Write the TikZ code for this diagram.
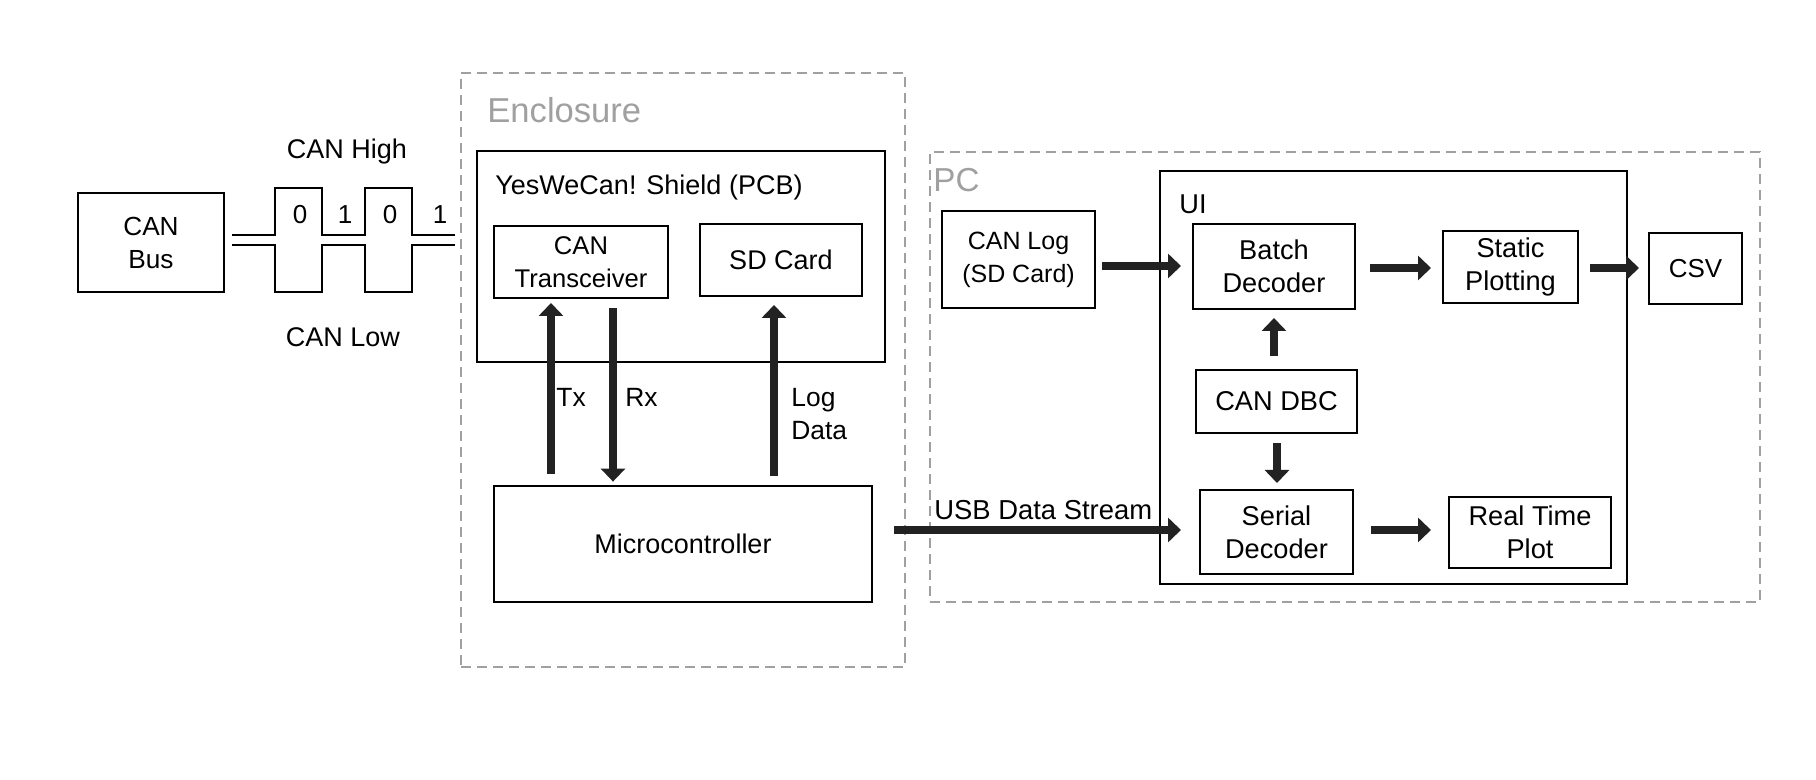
\documentclass[tikz,border=0pt]{standalone}
\usepackage{fontspec}
\setmainfont{Liberation Sans}
\usetikzlibrary{arrows.meta}
\definecolor{encgray}{HTML}{A0A0A0}
\definecolor{arrowc}{HTML}{222222}
\tikzset{
  blk/.style={draw=black, line width=1pt, inner sep=0pt, align=center, font=\fontsize{13.6}{16.7}\selectfont},
  grp/.style={draw=encgray, line width=0.7pt, dash pattern=on 5pt off 3pt, inner sep=0pt},
  cont/.style={draw=black, line width=1pt, inner sep=0pt},
  big/.style={draw=arrowc, line width=3.6pt, -{Triangle[width=12pt,length=6.5pt]}},
  wire/.style={draw=black, line width=1pt},
  lbl/.style={inner sep=0pt, font=\fontsize{13.6}{16.7}\selectfont},
  grplbl/.style={inner sep=0pt, text=encgray, font=\fontsize{17.3}{19}\selectfont},
}
% \mybox[style]{name}{x1}{y1}{x2}{y2}{text}
\newcommand\mybox[7][]{%
  \node[blk, #1, minimum width={(#5-#3)*0.5pt}, minimum height={(#6-#4)*0.5pt}]
    (#2) at ({(#3+#5)/2},{(#4+#6)/2}) {#7};}
\begin{document}
\begin{tikzpicture}[x=0.5pt,y=-0.5pt]
\useasboundingbox (0,0) rectangle (1816,780);

% group boxes
\mybox[grp]{encl}{461}{73}{905}{667}{}
\node[grplbl, anchor=base west] (encllbl) at (487,123) {Enclosure};
\mybox[grp]{pc}{930}{152}{1760}{602}{}
\node[grplbl, anchor=base west, font=\fontsize{16.6}{19}\selectfont] (pclbl) at (933,192) {PC};
\mybox[cont]{shield}{477}{151}{885}{362}{}
\node[lbl, anchor=base west, font=\fontsize{13.5}{16.7}\selectfont] (shieldlbl) at (495,195) {YesWeCan! Shield (PCB)};
\mybox[cont, line width=1.3pt]{ui}{1160}{171}{1627}{584}{}
\node[lbl, anchor=base west] (uilbl) at (1179,214) {UI};

% CAN bus side
\mybox[font=\fontsize{13.1}{16.5}\selectfont]{canbus}{78}{193}{224}{292}{CAN\\Bus}
\coordinate (hA) at (232,235);
\coordinate (hB) at (455,235);
\coordinate (lA) at (232,245);
\coordinate (lB) at (455,245);
\draw[wire] (hA) -- (275,235) -- (275,188) -- (322,188) -- (322,235) -- (365,235) -- (365,188) -- (412,188) -- (412,235) -- (hB);
\draw[wire] (lA) -- (275,245) -- (275,292) -- (322,292) -- (322,245) -- (365,245) -- (365,292) -- (412,292) -- (412,245) -- (lB);
\node[lbl, font=\fontsize{13}{14}\selectfont] (b1) at (300,215) {0};
\node[lbl, font=\fontsize{13}{14}\selectfont] (b2) at (345,215) {1};
\node[lbl, font=\fontsize{13}{14}\selectfont] (b3) at (390,215) {0};
\node[lbl, font=\fontsize{13}{14}\selectfont] (b4) at (440,215) {1};
\node[lbl, font=\fontsize{13.5}{14}\selectfont] (canhigh) at (347,152) {CAN High};
\node[lbl, font=\fontsize{13.5}{14}\selectfont] (canlow) at (343,337) {CAN Low};

% enclosure contents
\mybox[font=\fontsize{12.8}{16.7}\selectfont]{trx}{494}{226}{668}{298}{CAN\\Transceiver}
\mybox[font=\fontsize{13.5}{16.7}\selectfont]{sd}{700}{224}{862}{296}{SD Card}
\mybox[font=\fontsize{13.5}{16.7}\selectfont]{micro}{494}{486}{872}{602}{Microcontroller}

\coordinate (txx) at (551,0);
\coordinate (rxx) at (613,0);
\coordinate (logx) at (774,0);
\draw[big, shorten <=5.5pt, shorten >=2pt] (micro.north -| txx) -- (trx.south -| txx);
\draw[big, shorten <=4.5pt, shorten >=1.7pt] (trx.south -| rxx) -- (micro.north -| rxx);
\draw[big, shorten <=4.5pt, shorten >=4pt] (micro.north -| logx) -- (sd.south -| logx);
\node[lbl, anchor=west, font=\fontsize{13.2}{16.7}\selectfont] (txl) at (556,397) {Tx};
\node[lbl, anchor=west, font=\fontsize{13.2}{16.7}\selectfont] (rxl) at (625,397) {Rx};
\node[lbl, anchor=west, align=left, font=\fontsize{13.2}{16.2}\selectfont] (logl) at (791,414) {Log\\Data};

% PC contents
\mybox[font=\fontsize{12.5}{16.5}\selectfont]{canlog}{942}{211}{1095}{308}{CAN Log\\(SD Card)}
\mybox{batch}{1193}{224}{1355}{309}{Batch\\Decoder}
\mybox{dbc}{1196}{370}{1357}{433}{CAN DBC}
\mybox{serial}{1200}{490}{1353}{574}{Serial\\Decoder}
\mybox{static}{1443}{231}{1578}{303}{Static\\Plotting}
\mybox[font=\fontsize{13}{16.7}\selectfont]{csv}{1649}{233}{1742}{304}{CSV}
\mybox{rtp}{1449}{497}{1611}{568}{Real Time\\Plot}

\coordinate (r1) at (0,266);
\coordinate (r2) at (0,268);
\coordinate (r3) at (0,530);
\coordinate (c1) at (1274,0);
\coordinate (c2) at (1277,0);
\draw[big, shorten <=3pt, shorten >=5.5pt] (canlog.east |- r1) -- (batch.west |- r1);
\draw[big, shorten <=7pt, shorten >=5.5pt] (batch.east |- r2) -- (static.west |- r2);
\draw[big, shorten <=5.5pt, shorten >=4.5pt] (static.east |- r2) -- (csv.west |- r2);
\draw[big, shorten <=6.5pt, shorten >=4pt] (dbc.north -| c1) -- (batch.south -| c1);
\draw[big, shorten <=4.5pt, shorten >=3pt] (dbc.south -| c2) -- (serial.north -| c2);
\draw[big, shorten <=8.5pt, shorten >=8.5pt] (serial.east |- r3) -- (rtp.west |- r3);
\draw[big, shorten <=10.5pt, shorten >=9pt] (micro.east |- r3) -- (serial.west |- r3);
\node[lbl, anchor=west, font=\fontsize{13.7}{14}\selectfont] (usbl) at (934,510) {USB Data Stream};
\end{tikzpicture}
\end{document}
